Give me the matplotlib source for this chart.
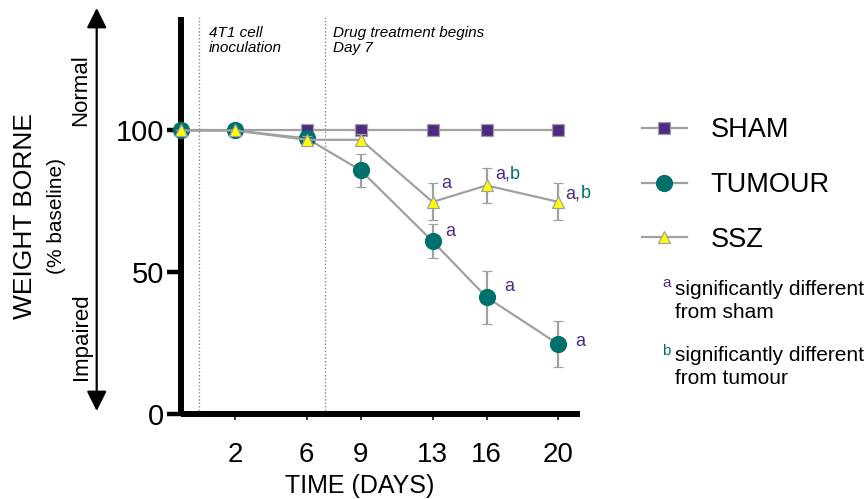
import matplotlib
matplotlib.use("Agg")
import matplotlib.pyplot as plt
from matplotlib.lines import Line2D
from matplotlib.patches import FancyArrowPatch

plt.rcParams['font.family'] = ['Liberation Sans', 'DejaVu Sans']

# ---- data ----
days = [-1, 2, 6, 9, 13, 16, 20]
tick_days = [2, 6, 9, 13, 16, 20]
sham = [100, 100, 100, 100, 100, 100, 100]
sham_err = [0, 0, 0, 0, 0, 0, 0]
tumour = [100, 100, 97.2, 85.9, 60.9, 41.2, 24.6]
tumour_err = [0, 0, 2.0, 5.8, 6.0, 9.3, 8.1]
ssz = [100, 100, 96.7, 96.7, 74.8, 80.6, 74.8]
ssz_err = [0, 0, 1.5, 2.0, 6.5, 6.3, 6.5]
yticks = [0, 50, 100]
series_names = ["SHAM", "TUMOUR", "SSZ"]

PURPLE = '#4F2A82'
TEAL = '#00706B'
YELLOW = '#FFFF00'
GRAY = '#A0A0A0'

fig = plt.figure(figsize=(8.65, 4.99), dpi=100)
ax = fig.add_axes([181/865, 1-414/499, (580-181)/865, (414-17)/499])

ax.set_xlim(-1, 21.2)
ax.set_ylim(0, 140)

# vertical dotted event lines
for d in (0, 7):
    ax.axvline(d, color='#888888', linestyle=(0, (1, 1.5)), linewidth=1.0, zorder=1)

common = dict(color=GRAY, linewidth=1.6, ecolor=GRAY, elinewidth=1.6,
              capsize=3.6, capthick=1.6, clip_on=False)
e1 = ax.errorbar(days, sham, yerr=sham_err, marker='s', markersize=8.5,
                 markerfacecolor=PURPLE, markeredgecolor=GRAY, markeredgewidth=0.9,
                 zorder=3, **common)
e2 = ax.errorbar(days, tumour, yerr=tumour_err, marker='o', markersize=11.5,
                 markerfacecolor=TEAL, markeredgecolor=TEAL, markeredgewidth=0.9,
                 zorder=4, **common)
e3 = ax.errorbar(days, ssz, yerr=ssz_err, marker='^', markersize=9,
                 markerfacecolor=YELLOW, markeredgecolor=GRAY, markeredgewidth=0.9,
                 zorder=5, **common)
for e in (e1, e2, e3):
    for art in e.get_children():
        art.set_clip_on(False)

# spines
for s in ('top', 'right'):
    ax.spines[s].set_visible(False)
for s in ('left', 'bottom'):
    ax.spines[s].set_linewidth(4.3)
    ax.spines[s].set_capstyle('butt')

ax.set_yticks(yticks)
ax.set_yticklabels([str(v) for v in yticks], fontsize=21)
ax.tick_params(axis='y', length=10, width=3.2, pad=2)
ax.set_xticks(tick_days)
ax.set_xticklabels([str(v) for v in tick_days], fontsize=20)
ax.tick_params(axis='x', length=4.3, width=1.1, pad=16)

fig.text(360/865, 1-486/499, "TIME (DAYS)", fontsize=18, ha='center', va='center')
fig.text(25/865, 1-216/499, "WEIGHT BORNE", fontsize=19, rotation=90, ha='center', va='center')
fig.text(57/865, 1-216/499, "(% baseline)", fontsize=15, rotation=90, ha='center', va='center')
fig.text(81/865, 1-90/499, "Normal", fontsize=16, rotation=90, ha='center', va='center')
fig.text(81/865, 1-337/499, "Impaired", fontsize=16, rotation=90, ha='center', va='center')

arrow = FancyArrowPatch((96.7/865, 1-411/499), (96.7/865, 1-8/499),
                        transform=fig.transFigure, arrowstyle='<|-|>,head_length=1.1,head_width=0.55',
                        mutation_scale=11, color='black', linewidth=1.6,
                        shrinkA=0, shrinkB=0)
fig.add_artist(arrow)

# event annotations
ax.text(0.55, 137, "4T1 cell\ninoculation", fontsize=11, style='italic', ha='left', va='top',
        linespacing=1.1)
ax.text(7.45, 137, "Drug treatment begins\nDay 7", fontsize=11, style='italic', ha='left', va='top',
        linespacing=1.1)

# significance letters
def letters(x, y, dx, dy, with_b):
    ax.annotate("a," if with_b else "a", xy=(x, y), xytext=(dx, dy), textcoords='offset points',
                color=PURPLE, fontsize=13, ha='left', va='center')
    if with_b:
        ax.annotate("b", xy=(x, y), xytext=(dx + 11.0, dy), textcoords='offset points',
                    color=TEAL, fontsize=13, ha='left', va='center')

letters(days[4], ssz[4], 6, 13, False)
letters(days[5], ssz[5], 6, 8, True)
letters(days[6], ssz[6], 5, 6, True)
letters(days[4], tumour[4], 9, 7, False)
letters(days[5], tumour[5], 13, 8, False)
letters(days[6], tumour[6], 12, 2, False)

# legend
handles = [
    Line2D([], [], color=GRAY, linewidth=1.6, marker='s', markersize=8.5,
           markerfacecolor=PURPLE, markeredgecolor=GRAY, markeredgewidth=0.9),
    Line2D([], [], color=GRAY, linewidth=1.6, marker='o', markersize=11.5,
           markerfacecolor=TEAL, markeredgecolor=TEAL, markeredgewidth=0.9),
    Line2D([], [], color=GRAY, linewidth=1.6, marker='^', markersize=9,
           markerfacecolor=YELLOW, markeredgecolor=GRAY, markeredgewidth=0.9),
]
leg = fig.legend(handles, series_names, loc='upper left', bbox_to_anchor=(642/865, 1-117/499),
                 frameon=False, fontsize=19.5, handlelength=1.65, handletextpad=0.88,
                 labelspacing=1.07, borderaxespad=0, borderpad=0)

# footnotes
fig.text(662/865, 1-287/499, "a", color=PURPLE, fontsize=11, ha='left', va='baseline')
fig.text(675/865, 1-280/499, "significantly different\nfrom sham", fontsize=15, ha='left',
         va='top', linespacing=1.3)
fig.text(662/865, 1-355/499, "b", color=TEAL, fontsize=11, ha='left', va='baseline')
fig.text(675/865, 1-346/499, "significantly different\nfrom tumour", fontsize=15, ha='left',
         va='top', linespacing=1.3)

fig.savefig("out.png", dpi=100)
